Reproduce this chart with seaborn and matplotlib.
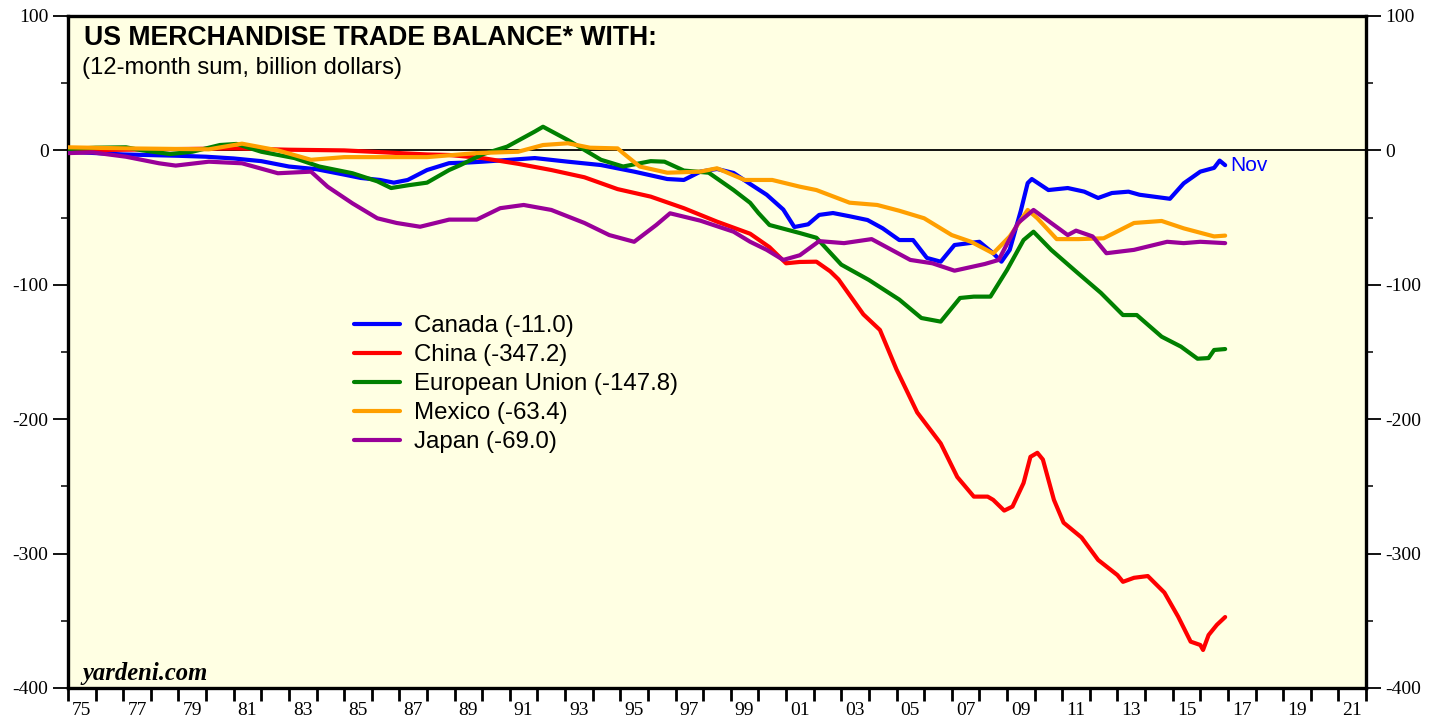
import matplotlib

matplotlib.use("Agg")

import matplotlib.pyplot as plt
import pandas as pd
import seaborn as sns
from matplotlib.lines import Line2D
from matplotlib.ticker import FixedLocator, MultipleLocator

# 12-month sums, billion dollars
canada_years = [1975, 1976, 1977, 1978, 1979, 1980, 1981, 1982, 1983, 1984, 1985,
                1985.6, 1986.3, 1986.8, 1987.3, 1988, 1988.8, 1989.5, 1990, 1991,
                1991.9, 1993.1, 1994.3, 1995.5, 1996.7, 1997.3, 1997.9, 1998.5,
                1999.1, 1999.7, 2000.3, 2000.9, 2001.3, 2001.8, 2002.2, 2002.7,
                2003.3, 2003.95, 2004.5, 2005.1, 2005.6, 2006.1, 2006.6, 2007.1,
                2008, 2008.5, 2008.8, 2009.1, 2009.5, 2009.75, 2009.9, 2010.5,
                2011.2, 2011.8, 2012.3, 2012.8, 2013.4, 2013.8, 2014.9, 2015.4,
                2016, 2016.5, 2016.7, 2016.9]
canada_vals = [-1, -2, -3, -3.5, -4, -4.7, -6, -8, -12, -14, -18,
               -20.5, -22, -24, -22, -14.6, -9.5, -9, -8.4, -7,
               -5.7, -8.4, -10.9, -15.8, -21.3, -22, -15.8, -13.8,
               -16.8, -25, -33, -44, -57, -55, -48, -46.6,
               -49, -51.8, -58, -66.7, -66.7, -80, -82.8, -70.4,
               -68, -76.5, -82.8, -74, -45, -24.3, -21.3, -29.5,
               -28, -30.7, -35.4, -31.7, -30.7, -33, -36, -24.5,
               -15.8, -13, -7.6, -11.0]

china_years = [1975, 1977, 1979, 1981, 1983, 1985, 1986.5, 1988, 1988.8, 1990,
               1991.3, 1992.5, 1993.7, 1994.9, 1996.1, 1997.3, 1998.5, 1999.7,
               2000.4, 2001.0, 2001.5, 2002.1, 2002.6, 2002.9, 2003.8, 2004.4,
               2005.0, 2005.75, 2006.6, 2007.2, 2007.8, 2008.3, 2008.5, 2008.9,
               2009.2, 2009.6, 2009.85, 2010.1, 2010.3, 2010.7, 2011.05, 2011.7,
               2012.3, 2013.0, 2013.2, 2013.6, 2014.1, 2014.7, 2015.2, 2015.65,
               2016.0, 2016.1, 2016.3, 2016.6, 2016.9]
china_vals = [0, 0.5, 1, 1.5, 0.5, 0, -1.5, -3, -3.4, -5.7,
              -10, -14.6, -20, -28.8, -34.4, -43, -53, -62,
              -72, -84, -83, -82.8, -90, -96, -122, -133.6,
              -163, -195, -218, -243, -257.6, -257.6, -260, -268,
              -265, -247.5, -228, -225, -230, -260, -277, -288,
              -304.7, -316, -321, -318, -316.7, -329, -347, -365.5,
              -368, -371.7, -360.6, -353, -347.2]

eu_years = [1975, 1976, 1977.1, 1977.7, 1978.7, 1979.5, 1980.5, 1981.1, 1982,
            1983.2, 1984.1, 1985.3, 1986.2, 1986.7, 1987.3, 1988, 1988.8, 1989.2,
            1990, 1990.9, 1991.9, 1992.2, 1993.1, 1994.3, 1995.1, 1996.1, 1996.6,
            1997.3, 1998.2, 1999.1, 1999.7, 2000.0, 2000.4, 2001.5, 2002.1,
            2003.0, 2004.0, 2005.1, 2005.9, 2006.6, 2007.3, 2007.8, 2008.4,
            2009.0, 2009.6, 2009.96, 2010.6, 2011.55, 2012.4, 2013.2, 2013.7,
            2014.6, 2015.3, 2015.9, 2016.3, 2016.5, 2016.9]
eu_vals = [1, 2, 2.3, 0, -2.7, -1, 4, 4.8, -1,
           -5.7, -12, -17, -23, -28, -26, -24, -14.6, -11,
           -3, 2.8, 14, 17.6, 7.7, -7, -12, -8, -8.4,
           -15, -16.6, -29.5, -39, -46.6, -55.5, -61.5, -65,
           -85, -96.4, -111, -124.7, -127.4, -109.8, -108.8, -108.8,
           -89, -66.7, -60.5, -74, -91, -106, -122.5, -122.5,
           -138.6, -146, -155, -154.5, -148.5, -147.8]

mexico_years = [1975, 1977.1, 1980.1, 1981.3, 1982.6, 1983.8, 1985, 1986.8, 1988,
                1989.8, 1991.3, 1992.2, 1993.1, 1993.9, 1994.9, 1995.1, 1995.7,
                1996.7, 1997.9, 1998.5, 1999.5, 2000.5, 2001.5, 2002.1, 2003.3,
                2004.3, 2005.1, 2006, 2007, 2007.7, 2008.5, 2009.1, 2009.75,
                2010.1, 2010.8, 2011.6, 2012.5, 2013.6, 2014.6, 2015.4, 2016.5,
                2016.9]
mexico_vals = [2.3, 1.5, 0.8, 5, 0, -7, -5, -5, -5,
               -2, -1, 4, 5.3, 2, 1.5, -2, -12,
               -16.6, -15.8, -13.3, -22, -22, -27, -29.5, -38.9,
               -40.6, -44.9, -50.5, -63, -68, -76.6, -64, -44.3,
               -50.5, -66, -66, -65.4, -54, -52.5, -58, -64,
               -63.4]

japan_years = [1975, 1975.9, 1977.1, 1978.3, 1978.9, 1980.1, 1981.3, 1982.6,
               1983.8, 1984.4, 1985.3, 1986.2, 1986.9, 1987.75, 1988.8, 1989.8,
               1990.65, 1991.5, 1992.5, 1993.7, 1994.6, 1995.5, 1996.3, 1996.8,
               1997.9, 1999.1, 1999.7, 2000.3, 2000.9, 2001.5, 2002.2, 2003.1,
               2004.1, 2005.5, 2006.3, 2007.1, 2008.2, 2008.7, 2009.4, 2009.96,
               2010.6, 2011.2, 2011.5, 2012.1, 2012.6, 2013.6, 2014.8, 2015.4,
               2016, 2016.9]
japan_vals = [-2, -1.5, -4.7, -9.6, -11.3, -8.4, -9.6, -17,
              -15.8, -27, -39.4, -50.5, -54, -56.8, -51.5, -51.5,
              -43, -40.6, -44.3, -54, -63, -68, -55.5, -46.8,
              -52.3, -60.5, -68, -74, -81.5, -78, -67.5, -69,
              -66, -81.5, -84, -89.5, -84.5, -81.5, -54, -44.3,
              -54, -63, -59.7, -64, -76.5, -74, -68, -69,
              -68, -69.0]

countries = ["Canada", "China", "European Union", "Mexico", "Japan"]
latest = ["-11.0", "-347.2", "-147.8", "-63.4", "-69.0"]
colors = ["#0000FF", "#FF0000", "#008000", "#FF9F00", "#990099"]

series = {
    "Canada": (canada_years, canada_vals),
    "China": (china_years, china_vals),
    "European Union": (eu_years, eu_vals),
    "Mexico": (mexico_years, mexico_vals),
    "Japan": (japan_years, japan_vals),
}
df = pd.concat(
    [pd.DataFrame({"year": yrs, "value": vals, "country": name})
     for name, (yrs, vals) in series.items()],
    ignore_index=True,
)

sns.set_theme(style="white")
plt.rcParams["font.family"] = ["Liberation Sans", "DejaVu Sans"]
plt.rcParams["axes.unicode_minus"] = False
plt.rcParams["text.color"] = "black"

fig = plt.figure(figsize=(14.46, 7.19), dpi=100)
ax = fig.add_axes([68 / 1446, 31 / 719, 1298 / 1446, 672 / 719])
ax.set_facecolor("#FFFFE3")

ax.axhline(0, color="black", lw=1.3, zorder=1)

sns.lineplot(data=df, x="year", y="value", hue="country", hue_order=countries,
             palette=dict(zip(countries, colors)), linewidth=3.0, sort=False,
             estimator=None, legend=False, ax=ax, zorder=3)

ax.set_xlim(1975, 2022)
ax.set_ylim(-400, 100)
ax.set_xlabel("")
ax.set_ylabel("")

for side in ["left", "right", "top", "bottom"]:
    ax.spines[side].set_visible(True)
    ax.spines[side].set_color("black")
    ax.spines[side].set_linewidth(2.4)

serif = "Liberation Serif"

# y axis: labels both sides, minor ticks every 50
ax.yaxis.set_major_locator(MultipleLocator(100))
ax.yaxis.set_minor_locator(MultipleLocator(50))
ax.tick_params(axis="y", which="major", direction="out", length=11, width=1.3,
               left=True, right=True, labelleft=True, labelright=True,
               labelsize=14, pad=3, colors="black")
ax.tick_params(axis="y", which="minor", direction="out", length=5, width=1.3,
               left=True, right=True)
for lab in ax.get_yticklabels():
    lab.set_fontfamily(serif)

# x axis: tick every year, labels centred on odd years
ax.xaxis.set_major_locator(FixedLocator(list(range(1975, 2023))))
ax.xaxis.set_major_formatter(plt.NullFormatter())
label_years = list(range(1975, 2022, 2))
ax.xaxis.set_minor_locator(FixedLocator([y + 0.5 for y in label_years]))
ax.set_xticklabels([f"{y % 100:02d}" for y in label_years], minor=True)
ax.tick_params(axis="x", which="major", direction="out", length=9, width=2,
               bottom=True, colors="black")
ax.tick_params(axis="x", which="minor", length=0, labelsize=14, pad=10,
               bottom=True, colors="black")
for lab in ax.get_xticklabels(minor=True):
    lab.set_fontfamily(serif)

# titles
ax.text(0.012, 0.986, "US MERCHANDISE TRADE BALANCE* WITH:", transform=ax.transAxes,
        fontsize=19.2, fontweight="bold", va="top", ha="left", color="black")
ax.text(0.011, 0.939, "(12-month sum, billion dollars)", transform=ax.transAxes,
        fontsize=17.2, va="top", ha="left", color="black")
ax.text(0.011, 0.005, "yardeni.com", transform=ax.transAxes, fontsize=17.7,
        fontstyle="italic", fontweight="bold", family=serif, va="bottom", ha="left",
        color="black")

ax.text(2017.1, -11, "Nov", color="#0000FF", fontsize=15, va="center", ha="left")

handles = [Line2D([0], [0], color=c, lw=3.0) for c in colors]
labels = [f"{n} ({v})" for n, v in zip(countries, latest)]
ax.legend(handles, labels, loc="upper left", bbox_to_anchor=(0.22, 0.555),
          frameon=False, fontsize=17.3, handlelength=1.95, handletextpad=0.55,
          labelspacing=0.29, borderaxespad=0, borderpad=0, labelcolor="black")

fig.savefig("out.png", dpi=100, facecolor="white")
